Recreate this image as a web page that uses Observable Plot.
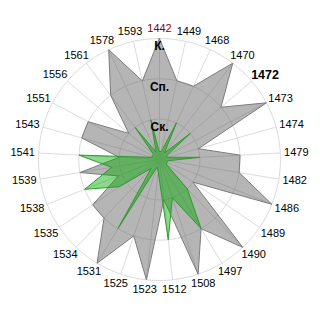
<!DOCTYPE html>
<html>
<head>
<meta charset="utf-8">
<script src="https://cdn.jsdelivr.net/npm/d3@7"></script>
<script src="https://cdn.jsdelivr.net/npm/@observablehq/plot@0.6"></script>
<style>
  html, body { margin: 0; padding: 0; background: #fff; }
  #chart { width: 320px; height: 320px; }
</style>
</head>
<body>
<div id="chart"></div>
<script>
// Categories (clockwise from top)
const years = [1442, 1449, 1468, 1470, 1472, 1473, 1474, 1479, 1482, 1486, 1489, 1490, 1497, 1508, 1512,
               1523, 1525, 1531, 1534, 1535, 1538, 1539, 1541, 1543, 1551, 1556, 1561, 1578, 1593];
// Grey series values (0..3 scale)
const greyValues = [3, 2, 2, 3, 2, 3, 1, 2, 2, 3, 1, 3, 2, 3, 1,
                    3, 2, 3, 2, 2, 1.1, 2, 1, 2, 2, 1, 2, 3, 2];
// Green series values
const greenValues = [0.2, 0.2, 1, 0.2, 1, 0.2, 0.2, 1, 0.2, 0.2, 0.2, 1, 2, 1, 2,
                     0.3, 0.2, 2, 0.3, 1.2, 2, 1.2, 2, 0.2, 0.2, 0.2, 1, 0.2, 1];
// Ring levels and labels
const ringLevels = [1, 2, 3];
const ringNames = ["Ск.", "Сп.", "К."];
const redYear = 1442;
const boldYear = 1472;

const n = years.length;
const maxV = 3;
const k = 121 / maxV; // px per unit
const ang = i => (i * 2 * Math.PI) / n;

const poly = vals => vals.map((v, i) => ({x: v * Math.sin(ang(i)), y: v * Math.cos(ang(i))}));
const greyPts = poly(greyValues);
const greenPts = poly(greenValues);

const ringPts = ringLevels.flatMap(v =>
  d3.range(0, 361, 3).map(a => ({ring: v, x: v * Math.sin(a * Math.PI / 180), y: v * Math.cos(a * Math.PI / 180)}))
);

const labelData = years.map((yr, i) => {
  const a = ang(i);
  const half = yr === boldYear ? 13.5 : 12;
  return {
    year: yr,
    x: ((125 + half) * Math.sin(a)) / k,
    y: ((125 + 6) * Math.cos(a)) / k
  };
});

const ringLabelData = ringLevels.map((v, i) => ({v, name: ringNames[i]}));

const chart = Plot.plot({
  width: 320,
  height: 320,
  margin: 0,
  x: {domain: [-159 / k, 161 / k], axis: null},
  y: {domain: [-161 / k, 159 / k], axis: null},
  style: {background: "white", fontFamily: "'Liberation Sans', Arial, sans-serif", overflow: "visible"},
  marks: [
    Plot.line(ringPts, {x: "x", y: "y", z: "ring", stroke: "#dcdcdc", strokeWidth: 1}),
    Plot.link(years, {
      x1: 0, y1: 0,
      x2: (d, i) => maxV * Math.sin(ang(i)),
      y2: (d, i) => maxV * Math.cos(ang(i)),
      stroke: "#dcdcdc", strokeWidth: 1
    }),
    Plot.line(greyPts, {x: "x", y: "y", curve: "linear-closed", fill: "rgb(90,90,90)", fillOpacity: 0.45,
      stroke: "#7c7c7c", strokeWidth: 1, strokeLinejoin: "miter"}),
    Plot.line(greenPts, {x: "x", y: "y", curve: "linear-closed", fill: "rgb(0,170,0)", fillOpacity: 0.45,
      stroke: "#2f9a2f", strokeWidth: 1, strokeLinejoin: "miter"}),
    Plot.text(labelData.filter(d => d.year !== redYear && d.year !== boldYear), {
      x: "x", y: "y", text: d => String(d.year), fontSize: 11, fill: "black"
    }),
    Plot.text(labelData.filter(d => d.year === redYear), {
      x: "x", y: "y", text: d => String(d.year), fontSize: 11, fill: "#8b0000"
    }),
    Plot.text(labelData.filter(d => d.year === boldYear), {
      x: "x", y: "y", text: d => String(d.year), fontSize: 12.5, fontWeight: "bold", fill: "black"
    }),
    Plot.text(ringLabelData, {
      x: 0, y: d => d.v - 0.2, text: "name", fontSize: 12, fontWeight: "bold", fill: "black"
    })
  ]
});

document.getElementById("chart").appendChild(chart);
</script>
</body>
</html>
